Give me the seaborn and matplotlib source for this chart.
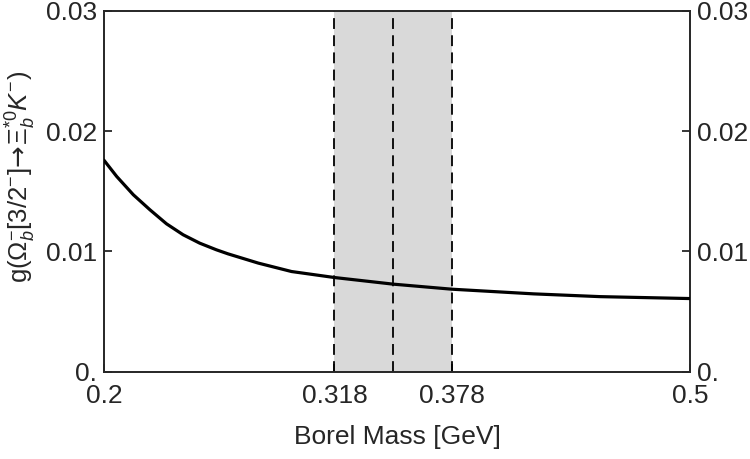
import matplotlib
matplotlib.use("Agg")
import numpy as np
import pandas as pd
import matplotlib.pyplot as plt
import seaborn as sns

# Borel mass (GeV) and coupling
borel_mass = [0.2000, 0.2065, 0.2150, 0.2235, 0.2320, 0.2405, 0.2490,
              0.2575, 0.2635, 0.2790, 0.2960, 0.3180, 0.3480, 0.3780,
              0.4200, 0.4540, 0.5000]
coupling = [0.01758, 0.01623, 0.01471, 0.01346, 0.01229, 0.01138, 0.01068,
            0.01013, 0.00979, 0.00902, 0.00832, 0.00782, 0.00727, 0.00685,
            0.00646, 0.00623, 0.00607]

window = [0.318, 0.378]
window_mid = 0.348
x_ticks = [0.2, 0.318, 0.378, 0.5]
x_tick_labels = ["0.2", "0.318", "0.378", "0.5"]
y_ticks = [0.0, 0.01, 0.02, 0.03]
y_tick_labels = ["0.", "0.01", "0.02", "0.03"]

sns.set_style("ticks")
plt.rcParams["font.family"] = ["Liberation Sans", "DejaVu Sans"]
plt.rcParams["mathtext.fontset"] = "custom"
plt.rcParams["mathtext.rm"] = "Liberation Sans"
plt.rcParams["mathtext.it"] = "Liberation Sans:italic"
plt.rcParams["mathtext.sf"] = "DejaVu Sans"

df = pd.DataFrame({"M": borel_mass, "g": coupling})

W, H = 750, 459
fig = plt.figure(figsize=(W / 100, H / 100), dpi=100)
ax = fig.add_axes([104 / W, 1 - 371.5 / H, 586 / W, 360.5 / H])

# Borel window shading with dashed edges and centre
ax.axvspan(window[0], window[1], color="#d9d9d9", lw=0, zorder=0)
for xv in [window[0], window_mid, window[1]]:
    ax.axvline(xv, color="black", ls=(0, (6, 3.5)), lw=1.3, zorder=1)

sns.lineplot(data=df, x="M", y="g", color="black", lw=2.3, ax=ax, zorder=3)

ax.set_xlim(0.2, 0.5)
ax.set_ylim(0, 0.03)
ax.set_xticks(x_ticks)
ax.set_xticklabels(x_tick_labels)
ax.set_yticks(y_ticks)
ax.set_yticklabels(y_tick_labels)
ax.tick_params(direction="in", length=6, width=1.3, labelsize=19,
               right=True, labelright=True, top=False)
ax.tick_params(axis="x", pad=9)
ax.tick_params(axis="y", pad=5)

for s in ax.spines.values():
    s.set_visible(True)
    s.set_linewidth(1.4)

ax.set_xlabel("Borel Mass [GeV]", fontsize=19, labelpad=12)
ax.set_ylabel("")
fig.text(21 / W, 1 - 177 / H,
         r"g($\Omega_b^{-}$[3/2$^{-}$]$\!\mathsf{\rightarrow}\!\Xi_b^{*0}K^{-}$)",
         rotation=90, ha="center", va="center", fontsize=18.5)

fig.savefig("out.png", dpi=100)
